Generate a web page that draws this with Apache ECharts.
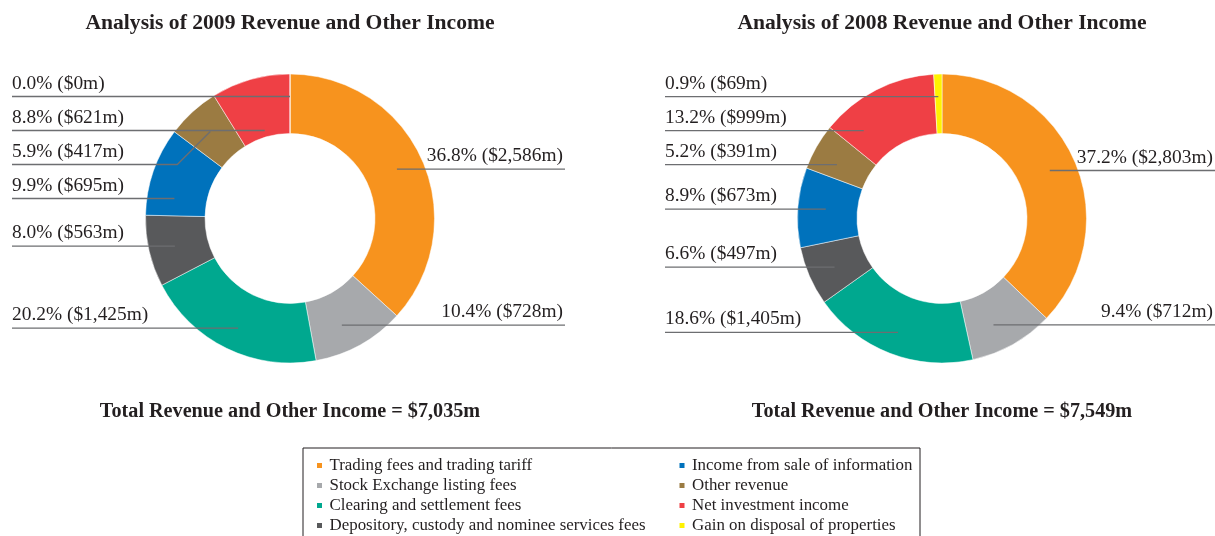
<!DOCTYPE html>
<html lang="en">
<head>
<meta charset="UTF-8">
<title>Analysis of Revenue and Other Income</title>
<script src="https://cdn.jsdelivr.net/npm/echarts@6/dist/echarts.min.js"></script>
<style>
  html, body { margin: 0; padding: 0; background: #fff; }
  #main { width: 1215px; height: 536px; }
</style>
</head>
<body>
<div id="main"></div>
<script>
// categories, in the order they go round each ring (clockwise from 12 o'clock)
var categories = [
    'Trading fees and trading tariff',
    'Stock Exchange listing fees',
    'Clearing and settlement fees',
    'Depository, custody and nominee services fees',
    'Income from sale of information',
    'Other revenue',
    'Net investment income',
    'Gain on disposal of properties'
];
var years = ['2009', '2008'];
// HK$ million
var amounts2009 = [2586, 728, 1425, 563, 695, 417, 621, 0];
var amounts2008 = [2803, 712, 1405, 497, 673, 391, 999, 69];
// percentages as printed on the chart
var percents2009 = [36.8, 10.4, 20.2, 8.0, 9.9, 5.9, 8.8, 0.0];
var percents2008 = [37.2, 9.4, 18.6, 6.6, 8.9, 5.2, 13.2, 0.9];

var colors = ['#f7931e', '#a7a9ac', '#00a88f', '#58595b', '#0072bc', '#9b7b42', '#ef4045', '#fff200'];
var textColor = '#231f20';
var lineColor = '#6d6e71';
var serif = '"Liberation Serif", "Times New Roman", serif';

var amounts = [amounts2009, amounts2008];
var percents = [percents2009, percents2008];

// ring geometry
var centersX = [290, 942];
var centerY = 218.5;
var R_IN = 85, R_OUT = 144.5, R_MID = 118, R_LABEL = 122;
var LABEL_GAP = 34;

function fmt(n) {
    return String(n).replace(/\B(?=(\d{3})+(?!\d))/g, ',');
}

function sum(arr) {
    return arr.reduce(function (a, b) { return a + b; }, 0);
}

// work out where each label and its leader line go
function planLabels(values, cx, cy, leftEdge, rightEdge) {
    var total = sum(values);
    var acc = 0;
    var items = [];
    values.forEach(function (v, i) {
        var a0 = acc, a1 = acc + v / total * 360;
        acc = a1;
        var mid = (a0 + a1) / 2;
        var rad = mid * Math.PI / 180;
        items.push({
            a0: a0, a1: a1, mid: mid,
            side: mid < 180 ? 1 : -1,
            px: cx + R_MID * Math.sin(rad),
            py: cy - R_MID * Math.cos(rad),
            y: cy - R_LABEL * Math.cos(rad)
        });
    });

    // push labels down so they don't collide
    [-1, 1].forEach(function (s) {
        var list = items.filter(function (it) { return it.side === s; })
            .sort(function (p, q) { return p.y - q.y; });
        for (var k = 1; k < list.length; k++) {
            if (list[k].y < list[k - 1].y + LABEL_GAP) {
                list[k].y = list[k - 1].y + LABEL_GAP;
            }
        }
    });

    // leader line: horizontal into the slice if possible, else a bend to the slice middle
    items.forEach(function (it) {
        var m = Math.min(3, (it.a1 - it.a0) / 4);
        var best = null;
        for (var t = it.a0 + m; t <= it.a1 - m + 1e-9; t += 0.25) {
            var c = Math.cos(t * Math.PI / 180), sn = Math.sin(t * Math.PI / 180);
            if (Math.abs(c) < 1e-6) continue;
            var r = (cy - it.y) / c;
            if (r < R_IN + 5 || r > R_OUT - 5) continue;
            if (sn * it.side < -0.01) continue;
            var score = Math.abs(r - R_MID) + Math.abs(t - it.mid);
            if (!best || score < best.score) {
                best = { score: score, x: cx + r * sn };
            }
        }
        it.edge = it.side < 0 ? leftEdge : rightEdge;
        if (best) {
            it.points = [[best.x, it.y], [it.edge, it.y]];
        } else {
            var dy = Math.abs(it.y - it.py);
            it.points = [[it.px, it.py], [it.px + it.side * dy, it.y], [it.edge, it.y]];
        }
    });
    return items;
}

var plans = [
    planLabels(amounts2009, centersX[0], centerY, centersX[0] - 278, centersX[0] + 275),
    planLabels(amounts2008, centersX[1], centerY, centersX[1] - 277, centersX[1] + 273)
];

var myChart = echarts.init(document.getElementById('main'));

var titles = [];
years.forEach(function (y, k) {
    titles.push({
        text: 'Analysis of ' + y + ' Revenue and Other Income',
        left: centersX[k], top: 10, padding: 0, textAlign: 'center',
        textStyle: { fontFamily: serif, fontSize: 21.6, fontWeight: 'bold', color: textColor, lineHeight: 26 }
    });
    titles.push({
        text: 'Total Revenue and Other Income = $' + fmt(sum(amounts[k])) + 'm',
        left: centersX[k], top: 399, padding: 0, textAlign: 'center',
        textStyle: { fontFamily: serif, fontSize: 20.2, fontWeight: 'bold', color: textColor, lineHeight: 26 }
    });
});

var series = years.map(function (y, k) {
    return {
        name: y,
        type: 'pie',
        center: [centersX[k], centerY],
        radius: [R_IN, R_OUT],
        startAngle: 90,
        clockwise: true,
        avoidLabelOverlap: false,
        itemStyle: { borderColor: '#fff', borderWidth: 0.5 },
        emphasis: { disabled: true },
        label: {
            position: 'outside',
            fontFamily: serif,
            fontSize: 19.4,
            lineHeight: 20,
            color: textColor,
            formatter: function (p) {
                return percents[p.seriesIndex][p.dataIndex].toFixed(1) + '% ($' + fmt(p.value) + 'm)';
            }
        },
        labelLine: { show: false },
        labelLayout: function (params) {
            var it = plans[params.seriesIndex][params.dataIndex];
            return {
                x: it.side < 0 ? it.edge : it.edge - 2,
                y: it.y - 3,
                align: it.side < 0 ? 'left' : 'right',
                verticalAlign: 'bottom'
            };
        },
        data: categories.map(function (name, i) {
            return { name: name, value: amounts[k][i] };
        })
    };
});

// leader lines, drawn over the rings
var leaderData = [];
plans.forEach(function (plan, s) {
    plan.forEach(function (it, i) { leaderData.push([s, i]); });
});
series.push({
    type: 'custom',
    coordinateSystem: 'none',
    silent: true,
    z: 5,
    data: leaderData,
    renderItem: function (params, api) {
        var it = plans[api.value(0)][api.value(1)];
        return {
            type: 'polyline',
            shape: { points: it.points },
            style: { stroke: lineColor, lineWidth: 1.3, fill: null }
        };
    }
});

var option = {
    backgroundColor: '#fff',
    color: colors,
    animation: false,
    title: titles,
    legend: {
        orient: 'vertical',
        left: 303,
        top: 448,
        height: 80,
        padding: [9, 6, 8, 12],
        itemGap: 3,
        itemWidth: 10,
        itemHeight: 7,
        icon: 'path://M0,0h10v10h-10z',
        borderColor: textColor,
        borderWidth: 1,
        borderRadius: 0,
        selectedMode: false,
        textStyle: { fontFamily: serif, fontSize: 16.9, color: textColor, lineHeight: 15 },
        data: categories.map(function (name, i) {
            return { name: name, textStyle: { width: i < 4 ? 345 : 222, overflow: 'truncate' } };
        })
    },
    series: series
};

myChart.setOption(option);
</script>
</body>
</html>
